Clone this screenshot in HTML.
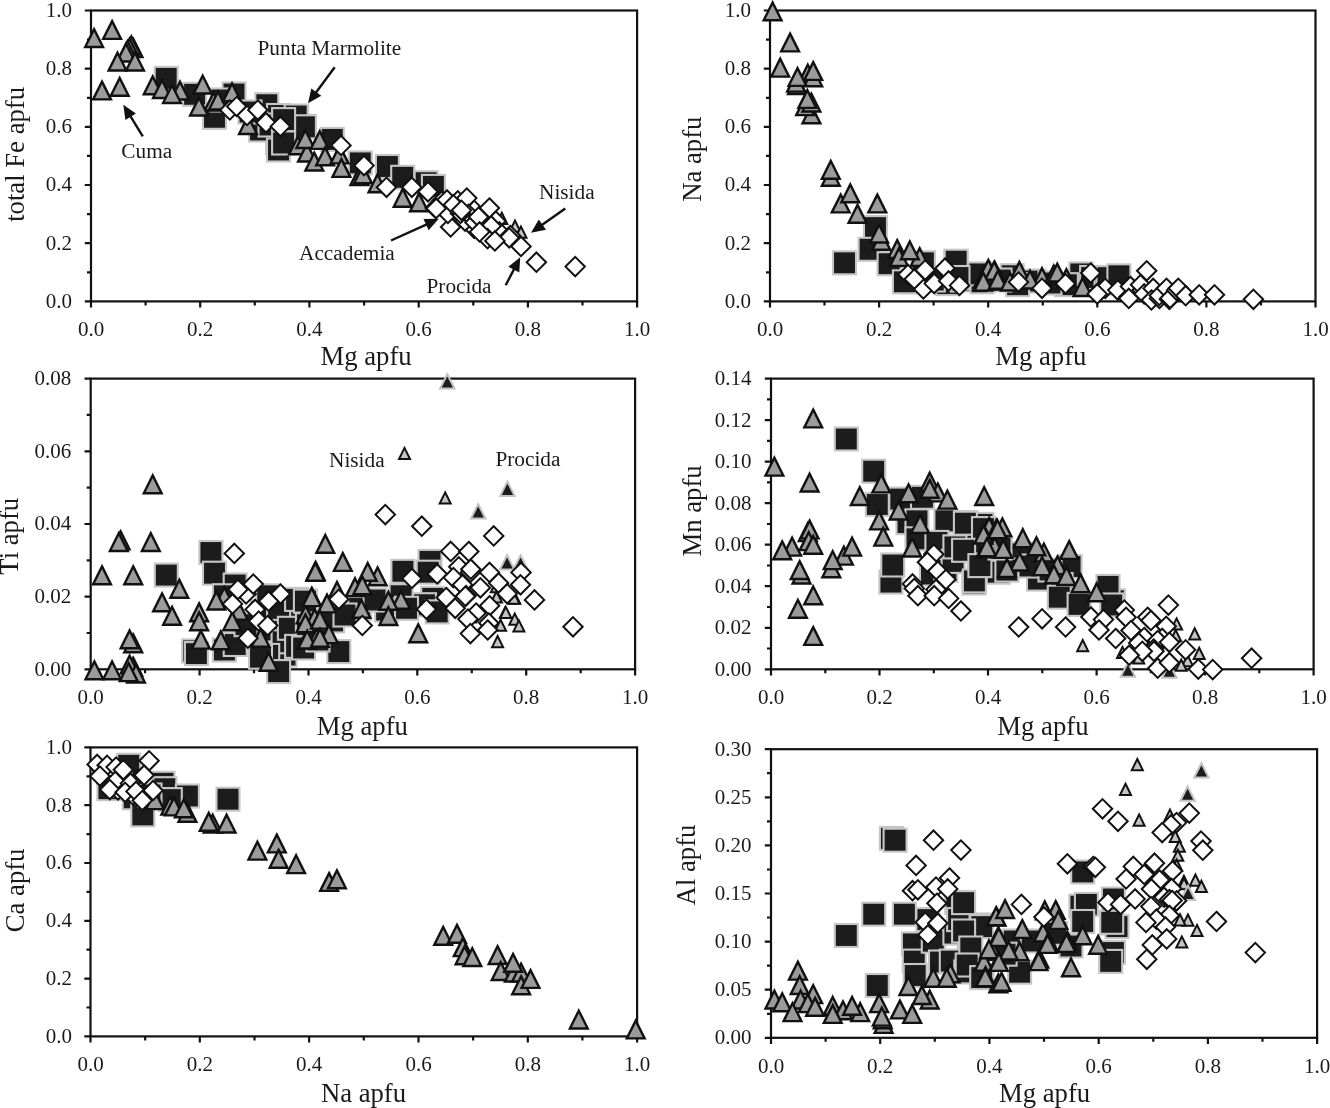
<!DOCTYPE html>
<html lang="en"><head><meta charset="utf-8"><title>Figure</title>
<style>html,body{margin:0;padding:0;background:#fff}svg{display:block}text{font-family:'Liberation Serif', 'DejaVu Serif', serif;fill:#1a1a1a}svg{filter:grayscale(1) blur(0.4px)}.tk{font-size:21px}.ax{font-size:26.7px}.an{font-size:21.3px}.fr{fill:none;stroke:#111;stroke-width:2.2}.t{fill:#9b9b9b;stroke:#111;stroke-width:2.4;stroke-linejoin:miter}.s{fill:#1c1c1c;stroke:#c6c6c6;stroke-width:2.1}.d{fill:#fff;stroke:#111;stroke-width:2;stroke-linejoin:miter}.u{fill:#c4c4c4;stroke:#111;stroke-width:2}.v{fill:#1c1c1c;stroke:#c2c2c2;stroke-width:2}.ar{stroke:#111;stroke-width:2.4;fill:none}.ah{fill:#111;stroke:none}</style></head><body>
<svg width="1330" height="1108" viewBox="0 0 1330 1108">
<rect width="1330" height="1108" fill="#fff"/>
<defs>
<path id="t" d="M0,-8.3 L8.9,9.5 L-8.9,9.5 Z"/>
<rect id="s" x="-11.5" y="-11.5" width="23" height="23"/>
<path id="d" d="M0,-9.7 L9.7,0 L0,9.7 L-9.7,0 Z"/>
<path id="u" d="M0,-5 L5.5,6.15 L-5.5,6.15 Z"/>
<path id="v" d="M0,-6.55 L7.2,7.7 L-7.2,7.7 Z"/>
</defs>
<g id="p1">
<rect class="fr" x="91" y="10.5" width="546.1" height="290.9"/>
<path class="fr" d="M91,301.4 v6.2 M145.6,301.4 v4 M200.2,301.4 v6.2 M254.8,301.4 v4 M309.4,301.4 v6.2 M364.1,301.4 v4 M418.7,301.4 v6.2 M473.3,301.4 v4 M527.9,301.4 v6.2 M582.5,301.4 v4 M637.1,301.4 v6.2 M91,301.4 h-6.2 M91,272.3 h-4 M91,243.2 h-6.2 M91,214.1 h-4 M91,185 h-6.2 M91,155.9 h-4 M91,126.9 h-6.2 M91,97.8 h-4 M91,68.7 h-6.2 M91,39.6 h-4 M91,10.5 h-6.2"/>
<text class="tk" text-anchor="middle" x="91" y="336.4">0.0</text>
<text class="tk" text-anchor="middle" x="200.2" y="336.4">0.2</text>
<text class="tk" text-anchor="middle" x="309.4" y="336.4">0.4</text>
<text class="tk" text-anchor="middle" x="418.7" y="336.4">0.6</text>
<text class="tk" text-anchor="middle" x="527.9" y="336.4">0.8</text>
<text class="tk" text-anchor="middle" x="637.1" y="336.4">1.0</text>
<text class="tk" text-anchor="end" x="72.1" y="307.8">0.0</text>
<text class="tk" text-anchor="end" x="72.1" y="249.6">0.2</text>
<text class="tk" text-anchor="end" x="72.1" y="191.4">0.4</text>
<text class="tk" text-anchor="end" x="72.1" y="133.3">0.6</text>
<text class="tk" text-anchor="end" x="72.1" y="75.1">0.8</text>
<text class="tk" text-anchor="end" x="72.1" y="16.9">1.0</text>
<text class="ax" text-anchor="middle" x="366.1" y="365.4">Mg apfu</text>
<text class="ax" text-anchor="middle" transform="translate(24.1,154.4) rotate(-90)">total Fe apfu</text>
<use href="#s" class="s" x="166.2" y="78.4"/>
<use href="#s" class="s" x="194.6" y="94.3"/>
<use href="#s" class="s" x="214.5" y="117.3"/>
<use href="#s" class="s" x="234" y="94"/>
<use href="#s" class="s" x="222" y="100"/>
<use href="#s" class="s" x="266.8" y="104.7"/>
<use href="#s" class="s" x="278.5" y="115.5"/>
<use href="#s" class="s" x="296.6" y="117.3"/>
<use href="#s" class="s" x="303.8" y="126.4"/>
<use href="#s" class="s" x="277.6" y="142.6"/>
<use href="#s" class="s" x="260.5" y="130"/>
<use href="#s" class="s" x="278.5" y="150"/>
<use href="#s" class="s" x="250" y="112"/>
<use href="#s" class="s" x="270" y="125"/>
<use href="#s" class="s" x="288" y="130"/>
<use href="#s" class="s" x="296.2" y="116"/>
<use href="#s" class="s" x="304.4" y="126.8"/>
<use href="#s" class="s" x="283.6" y="119.6"/>
<use href="#s" class="s" x="283.6" y="143"/>
<use href="#s" class="s" x="332.3" y="139.4"/>
<use href="#s" class="s" x="360.3" y="162.9"/>
<use href="#s" class="s" x="387.4" y="166.5"/>
<use href="#s" class="s" x="402.7" y="177.3"/>
<use href="#s" class="s" x="426.2" y="182.7"/>
<use href="#s" class="s" x="433.4" y="186.4"/>
<use href="#t" class="t" x="94.1" y="37.5"/>
<use href="#t" class="t" x="112.1" y="29.4"/>
<use href="#t" class="t" x="133.5" y="47.5"/>
<use href="#t" class="t" x="131.4" y="44.8"/>
<use href="#t" class="t" x="129.5" y="47"/>
<use href="#t" class="t" x="127.5" y="49.5"/>
<use href="#t" class="t" x="126" y="52"/>
<use href="#t" class="t" x="117.5" y="61"/>
<use href="#t" class="t" x="135" y="61"/>
<use href="#t" class="t" x="102" y="89.9"/>
<use href="#t" class="t" x="119.7" y="86.3"/>
<use href="#t" class="t" x="152.7" y="84.8"/>
<use href="#t" class="t" x="162" y="88.5"/>
<use href="#t" class="t" x="180" y="90"/>
<use href="#t" class="t" x="172" y="93.5"/>
<use href="#t" class="t" x="202.7" y="84"/>
<use href="#t" class="t" x="213.6" y="101"/>
<use href="#t" class="t" x="199" y="106"/>
<use href="#t" class="t" x="218" y="100"/>
<use href="#t" class="t" x="232" y="91.7"/>
<use href="#t" class="t" x="248" y="124.5"/>
<use href="#t" class="t" x="298" y="144.8"/>
<use href="#t" class="t" x="307" y="152"/>
<use href="#t" class="t" x="314.3" y="161"/>
<use href="#t" class="t" x="305.3" y="138.5"/>
<use href="#t" class="t" x="319.7" y="139.4"/>
<use href="#t" class="t" x="325.1" y="155.7"/>
<use href="#t" class="t" x="339.6" y="153.9"/>
<use href="#t" class="t" x="341.4" y="167.4"/>
<use href="#t" class="t" x="359.4" y="175.5"/>
<use href="#t" class="t" x="363" y="173.7"/>
<use href="#t" class="t" x="377.5" y="182.7"/>
<use href="#t" class="t" x="402.7" y="197.2"/>
<use href="#t" class="t" x="419" y="201.7"/>
<use href="#u" class="u" x="501.8" y="217.8"/>
<use href="#u" class="u" x="515" y="225.6"/>
<use href="#u" class="u" x="521" y="231.6"/>
<use href="#d" class="d" x="456.1" y="210.3"/>
<use href="#d" class="d" x="474.2" y="210.3"/>
<use href="#d" class="d" x="481.4" y="217.5"/>
<use href="#d" class="d" x="495.8" y="221.1"/>
<use href="#d" class="d" x="499.4" y="231.9"/>
<use href="#d" class="d" x="474.2" y="228.3"/>
<use href="#d" class="d" x="465.1" y="221.1"/>
<use href="#d" class="d" x="441.7" y="201.2"/>
<use href="#d" class="d" x="510.3" y="235.5"/>
<use href="#d" class="d" x="229.8" y="110"/>
<use href="#d" class="d" x="236.7" y="106.5"/>
<use href="#d" class="d" x="247" y="115.5"/>
<use href="#d" class="d" x="257.8" y="110"/>
<use href="#d" class="d" x="266" y="122.7"/>
<use href="#d" class="d" x="280.4" y="126.4"/>
<use href="#d" class="d" x="341" y="145.4"/>
<use href="#d" class="d" x="364" y="165.6"/>
<use href="#d" class="d" x="386.5" y="187.3"/>
<use href="#d" class="d" x="411.8" y="187.3"/>
<use href="#d" class="d" x="428" y="191.8"/>
<use href="#d" class="d" x="435.2" y="208"/>
<use href="#d" class="d" x="447" y="199.9"/>
<use href="#d" class="d" x="457.8" y="200.8"/>
<use href="#d" class="d" x="466.8" y="198.1"/>
<use href="#d" class="d" x="468.6" y="214.3"/>
<use href="#d" class="d" x="450.6" y="227"/>
<use href="#d" class="d" x="475" y="222.5"/>
<use href="#d" class="d" x="489.4" y="208"/>
<use href="#d" class="d" x="491.2" y="226"/>
<use href="#d" class="d" x="487.6" y="238.7"/>
<use href="#d" class="d" x="509.2" y="237.8"/>
<use href="#d" class="d" x="447.9" y="213.4"/>
<use href="#d" class="d" x="460.5" y="213.4"/>
<use href="#d" class="d" x="478.6" y="217"/>
<use href="#d" class="d" x="436.2" y="208.4"/>
<use href="#d" class="d" x="453.4" y="204.8"/>
<use href="#d" class="d" x="461.5" y="210.3"/>
<use href="#d" class="d" x="479.6" y="231.9"/>
<use href="#d" class="d" x="494.9" y="240.9"/>
<use href="#d" class="d" x="521" y="246.4"/>
<use href="#d" class="d" x="536.4" y="262.2"/>
<use href="#d" class="d" x="575.2" y="266.6"/>
</g>
<g id="p2">
<rect class="fr" x="770" y="10.5" width="545.5" height="290.9"/>
<path class="fr" d="M770,301.4 v6.2 M824.5,301.4 v4 M879.1,301.4 v6.2 M933.6,301.4 v4 M988.2,301.4 v6.2 M1042.8,301.4 v4 M1097.3,301.4 v6.2 M1151.8,301.4 v4 M1206.4,301.4 v6.2 M1261,301.4 v4 M1315.5,301.4 v6.2 M770,301.4 h-6.2 M770,272.3 h-4 M770,243.2 h-6.2 M770,214.1 h-4 M770,185 h-6.2 M770,155.9 h-4 M770,126.9 h-6.2 M770,97.8 h-4 M770,68.7 h-6.2 M770,39.6 h-4 M770,10.5 h-6.2"/>
<text class="tk" text-anchor="middle" x="770" y="336.4">0.0</text>
<text class="tk" text-anchor="middle" x="879.1" y="336.4">0.2</text>
<text class="tk" text-anchor="middle" x="988.2" y="336.4">0.4</text>
<text class="tk" text-anchor="middle" x="1097.3" y="336.4">0.6</text>
<text class="tk" text-anchor="middle" x="1206.4" y="336.4">0.8</text>
<text class="tk" text-anchor="middle" x="1315.5" y="336.4">1.0</text>
<text class="tk" text-anchor="end" x="751" y="307.8">0.0</text>
<text class="tk" text-anchor="end" x="751" y="249.6">0.2</text>
<text class="tk" text-anchor="end" x="751" y="191.4">0.4</text>
<text class="tk" text-anchor="end" x="751" y="133.3">0.6</text>
<text class="tk" text-anchor="end" x="751" y="75.1">0.8</text>
<text class="tk" text-anchor="end" x="751" y="16.9">1.0</text>
<text class="ax" text-anchor="middle" x="1040.8" y="364.9">Mg apfu</text>
<text class="ax" text-anchor="middle" transform="translate(700.6,159.2) rotate(-90)">Na apfu</text>
<use href="#s" class="s" x="844.5" y="262.8"/>
<use href="#s" class="s" x="875.5" y="227.6"/>
<use href="#s" class="s" x="870.1" y="249.3"/>
<use href="#s" class="s" x="889.1" y="263.7"/>
<use href="#s" class="s" x="923.4" y="262.8"/>
<use href="#s" class="s" x="912.5" y="281.8"/>
<use href="#s" class="s" x="904.4" y="281.8"/>
<use href="#s" class="s" x="955.8" y="261.9"/>
<use href="#s" class="s" x="954" y="272.7"/>
<use href="#s" class="s" x="947.7" y="283.6"/>
<use href="#s" class="s" x="962.2" y="280"/>
<use href="#s" class="s" x="980.2" y="274.5"/>
<use href="#s" class="s" x="982" y="281.8"/>
<use href="#s" class="s" x="933.3" y="280"/>
<use href="#s" class="s" x="956.2" y="261.2"/>
<use href="#s" class="s" x="979.7" y="273.9"/>
<use href="#s" class="s" x="1012.2" y="275.7"/>
<use href="#s" class="s" x="958" y="277.5"/>
<use href="#s" class="s" x="1033.9" y="281.1"/>
<use href="#s" class="s" x="1080.8" y="273.9"/>
<use href="#s" class="s" x="1091.6" y="277.5"/>
<use href="#s" class="s" x="1106.1" y="282.9"/>
<use href="#s" class="s" x="1116.9" y="282.9"/>
<use href="#s" class="s" x="1017.6" y="284.7"/>
<use href="#s" class="s" x="1066.4" y="284.7"/>
<use href="#s" class="s" x="1000" y="280"/>
<use href="#s" class="s" x="1050" y="283"/>
<use href="#s" class="s" x="1108" y="277.6"/>
<use href="#s" class="s" x="1118.9" y="275.8"/>
<use href="#t" class="t" x="772.6" y="10.8"/>
<use href="#t" class="t" x="790.1" y="41.9"/>
<use href="#t" class="t" x="780.2" y="67.1"/>
<use href="#t" class="t" x="807.8" y="73.1"/>
<use href="#t" class="t" x="813.2" y="76.7"/>
<use href="#t" class="t" x="813.2" y="70.4"/>
<use href="#t" class="t" x="797" y="84.5"/>
<use href="#t" class="t" x="796.1" y="82.1"/>
<use href="#t" class="t" x="797.5" y="76.4"/>
<use href="#t" class="t" x="811.4" y="113.7"/>
<use href="#t" class="t" x="805.1" y="105.6"/>
<use href="#t" class="t" x="811.4" y="102"/>
<use href="#t" class="t" x="807.3" y="98.4"/>
<use href="#t" class="t" x="830.8" y="176.2"/>
<use href="#t" class="t" x="830.8" y="169.3"/>
<use href="#t" class="t" x="840.7" y="202.9"/>
<use href="#t" class="t" x="850.3" y="192.8"/>
<use href="#t" class="t" x="877.3" y="202.9"/>
<use href="#t" class="t" x="857.5" y="213.2"/>
<use href="#t" class="t" x="881.3" y="240.3"/>
<use href="#t" class="t" x="879.1" y="233"/>
<use href="#t" class="t" x="897.2" y="248.4"/>
<use href="#t" class="t" x="899" y="256.5"/>
<use href="#t" class="t" x="919.7" y="256.5"/>
<use href="#t" class="t" x="909.8" y="249.8"/>
<use href="#t" class="t" x="983.8" y="276.4"/>
<use href="#t" class="t" x="988.3" y="268.2"/>
<use href="#t" class="t" x="994.7" y="270"/>
<use href="#t" class="t" x="998.3" y="280"/>
<use href="#t" class="t" x="994.2" y="270.3"/>
<use href="#t" class="t" x="983.3" y="281.1"/>
<use href="#t" class="t" x="997.8" y="279.3"/>
<use href="#t" class="t" x="1019.4" y="270.3"/>
<use href="#t" class="t" x="1042" y="276.6"/>
<use href="#t" class="t" x="1053.7" y="273.9"/>
<use href="#t" class="t" x="1057.3" y="272"/>
<use href="#t" class="t" x="1066.4" y="277.5"/>
<use href="#t" class="t" x="1082.6" y="286.5"/>
<use href="#t" class="t" x="1010" y="281"/>
<use href="#t" class="t" x="1030" y="279"/>
<use href="#d" class="d" x="908" y="274.5"/>
<use href="#d" class="d" x="923.4" y="289"/>
<use href="#d" class="d" x="914.3" y="279.1"/>
<use href="#d" class="d" x="925.2" y="270"/>
<use href="#d" class="d" x="934.2" y="283.6"/>
<use href="#d" class="d" x="945" y="268.2"/>
<use href="#d" class="d" x="948.6" y="280.9"/>
<use href="#d" class="d" x="959.5" y="285.4"/>
<use href="#d" class="d" x="1018.5" y="282"/>
<use href="#d" class="d" x="1042" y="288.3"/>
<use href="#d" class="d" x="1065.5" y="283.8"/>
<use href="#d" class="d" x="1090.7" y="273"/>
<use href="#d" class="d" x="1098.8" y="292"/>
<use href="#d" class="d" x="1105.2" y="288.3"/>
<use href="#d" class="d" x="1117.8" y="290.1"/>
<use href="#d" class="d" x="1128.6" y="297.3"/>
<use href="#d" class="d" x="1130.4" y="286.5"/>
<use href="#d" class="d" x="1146.7" y="270.8"/>
<use href="#d" class="d" x="1142.2" y="290.1"/>
<use href="#d" class="d" x="1097.2" y="293.9"/>
<use href="#d" class="d" x="1128.8" y="298.4"/>
<use href="#d" class="d" x="1140.5" y="284.8"/>
<use href="#d" class="d" x="1144.2" y="293.9"/>
<use href="#d" class="d" x="1153.2" y="288.4"/>
<use href="#d" class="d" x="1151.4" y="300"/>
<use href="#d" class="d" x="1159.5" y="298.4"/>
<use href="#d" class="d" x="1159.3" y="295.5"/>
<use href="#d" class="d" x="1166.5" y="288.3"/>
<use href="#d" class="d" x="1169.4" y="299.3"/>
<use href="#d" class="d" x="1170.1" y="298.2"/>
<use href="#d" class="d" x="1176.6" y="290.3"/>
<use href="#d" class="d" x="1178.3" y="288.3"/>
<use href="#d" class="d" x="1185.7" y="295.7"/>
<use href="#d" class="d" x="1199.2" y="294.8"/>
<use href="#d" class="d" x="1214.5" y="294.8"/>
<use href="#d" class="d" x="1253.4" y="299.3"/>
</g>
<g id="p3">
<rect class="fr" x="90.7" y="378.6" width="544.4" height="290.7"/>
<path class="fr" d="M90.7,669.3 v6.2 M145.1,669.3 v4 M199.6,669.3 v6.2 M254,669.3 v4 M308.5,669.3 v6.2 M362.9,669.3 v4 M417.3,669.3 v6.2 M471.8,669.3 v4 M526.2,669.3 v6.2 M580.7,669.3 v4 M635.1,669.3 v6.2 M90.7,669.3 h-6.2 M90.7,633 h-4 M90.7,596.6 h-6.2 M90.7,560.3 h-4 M90.7,524 h-6.2 M90.7,487.6 h-4 M90.7,451.3 h-6.2 M90.7,414.9 h-4 M90.7,378.6 h-6.2"/>
<text class="tk" text-anchor="middle" x="90.7" y="704.3">0.0</text>
<text class="tk" text-anchor="middle" x="199.6" y="704.3">0.2</text>
<text class="tk" text-anchor="middle" x="308.5" y="704.3">0.4</text>
<text class="tk" text-anchor="middle" x="417.3" y="704.3">0.6</text>
<text class="tk" text-anchor="middle" x="526.2" y="704.3">0.8</text>
<text class="tk" text-anchor="middle" x="635.1" y="704.3">1.0</text>
<text class="tk" text-anchor="end" x="71.2" y="675.7">0.00</text>
<text class="tk" text-anchor="end" x="71.2" y="603">0.02</text>
<text class="tk" text-anchor="end" x="71.2" y="530.4">0.04</text>
<text class="tk" text-anchor="end" x="71.2" y="457.7">0.06</text>
<text class="tk" text-anchor="end" x="71.2" y="385">0.08</text>
<text class="ax" text-anchor="middle" x="362.3" y="735.3">Mg apfu</text>
<text class="ax" text-anchor="middle" transform="translate(18.3,536.3) rotate(-90)">Ti apfu</text>
<use href="#s" class="s" x="272" y="630"/>
<use href="#s" class="s" x="285" y="655"/>
<use href="#s" class="s" x="300" y="612"/>
<use href="#s" class="s" x="262" y="612"/>
<use href="#s" class="s" x="166.3" y="575.1"/>
<use href="#s" class="s" x="210.9" y="552.5"/>
<use href="#s" class="s" x="214.5" y="573.2"/>
<use href="#s" class="s" x="235.2" y="585"/>
<use href="#s" class="s" x="224.4" y="595.8"/>
<use href="#s" class="s" x="193.7" y="650.9"/>
<use href="#s" class="s" x="196.4" y="653.6"/>
<use href="#s" class="s" x="224.4" y="650"/>
<use href="#s" class="s" x="235.2" y="644.5"/>
<use href="#s" class="s" x="267.7" y="595.8"/>
<use href="#s" class="s" x="278.6" y="608.4"/>
<use href="#s" class="s" x="296.6" y="599.4"/>
<use href="#s" class="s" x="283.1" y="641.8"/>
<use href="#s" class="s" x="267.7" y="655.4"/>
<use href="#s" class="s" x="278.6" y="671.6"/>
<use href="#s" class="s" x="289.4" y="628.3"/>
<use href="#s" class="s" x="296.6" y="646.4"/>
<use href="#s" class="s" x="260.5" y="657.2"/>
<use href="#s" class="s" x="246" y="624.7"/>
<use href="#s" class="s" x="307.4" y="624.7"/>
<use href="#s" class="s" x="402.9" y="571.3"/>
<use href="#s" class="s" x="430" y="561.4"/>
<use href="#s" class="s" x="428.2" y="572.2"/>
<use href="#s" class="s" x="432.7" y="598.4"/>
<use href="#s" class="s" x="424.5" y="604.7"/>
<use href="#s" class="s" x="437.2" y="611.9"/>
<use href="#s" class="s" x="401.1" y="595.7"/>
<use href="#s" class="s" x="386.6" y="610.1"/>
<use href="#s" class="s" x="359.6" y="608.3"/>
<use href="#s" class="s" x="332.5" y="620.9"/>
<use href="#s" class="s" x="338.8" y="651.6"/>
<use href="#s" class="s" x="305.4" y="601.1"/>
<use href="#s" class="s" x="303.6" y="648"/>
<use href="#s" class="s" x="406.5" y="608.3"/>
<use href="#s" class="s" x="318" y="640"/>
<use href="#s" class="s" x="345" y="615"/>
<use href="#s" class="s" x="375" y="600"/>
<use href="#t" class="t" x="152.7" y="483.7"/>
<use href="#t" class="t" x="120.6" y="539.7"/>
<use href="#t" class="t" x="118.8" y="541.5"/>
<use href="#t" class="t" x="150.8" y="541.5"/>
<use href="#t" class="t" x="102" y="574.7"/>
<use href="#t" class="t" x="133.2" y="574.7"/>
<use href="#t" class="t" x="179.3" y="588.2"/>
<use href="#t" class="t" x="162.1" y="601.8"/>
<use href="#t" class="t" x="172.1" y="615.3"/>
<use href="#t" class="t" x="199.1" y="611.7"/>
<use href="#t" class="t" x="199.1" y="620.7"/>
<use href="#t" class="t" x="200.9" y="639.1"/>
<use href="#t" class="t" x="133.2" y="642.7"/>
<use href="#t" class="t" x="129.6" y="638.8"/>
<use href="#t" class="t" x="133.2" y="666.2"/>
<use href="#t" class="t" x="129.6" y="664"/>
<use href="#t" class="t" x="136" y="673"/>
<use href="#t" class="t" x="128.7" y="671.6"/>
<use href="#t" class="t" x="94.4" y="669.8"/>
<use href="#t" class="t" x="112.1" y="669.8"/>
<use href="#t" class="t" x="224.4" y="595.8"/>
<use href="#t" class="t" x="216.3" y="600"/>
<use href="#t" class="t" x="238.8" y="610.3"/>
<use href="#t" class="t" x="232.2" y="620.7"/>
<use href="#t" class="t" x="220.8" y="639.7"/>
<use href="#t" class="t" x="260.5" y="637.3"/>
<use href="#t" class="t" x="268.6" y="661.3"/>
<use href="#t" class="t" x="315.6" y="570.2"/>
<use href="#t" class="t" x="311.9" y="596.4"/>
<use href="#t" class="t" x="305.6" y="613.9"/>
<use href="#t" class="t" x="314.7" y="617.5"/>
<use href="#t" class="t" x="306.5" y="639.1"/>
<use href="#t" class="t" x="316.5" y="637.3"/>
<use href="#t" class="t" x="325.3" y="543.3"/>
<use href="#t" class="t" x="342.8" y="561.4"/>
<use href="#t" class="t" x="315.3" y="571.3"/>
<use href="#t" class="t" x="377.6" y="575.8"/>
<use href="#t" class="t" x="367.7" y="571.3"/>
<use href="#t" class="t" x="355" y="586.6"/>
<use href="#t" class="t" x="362.3" y="584.8"/>
<use href="#t" class="t" x="337" y="590.3"/>
<use href="#t" class="t" x="311.7" y="596.6"/>
<use href="#t" class="t" x="327" y="602.9"/>
<use href="#t" class="t" x="401" y="599.3"/>
<use href="#t" class="t" x="388.4" y="600.2"/>
<use href="#t" class="t" x="361.4" y="608.3"/>
<use href="#t" class="t" x="388.4" y="615.5"/>
<use href="#t" class="t" x="418.2" y="632.7"/>
<use href="#t" class="t" x="305.4" y="622.7"/>
<use href="#t" class="t" x="319.9" y="619.1"/>
<use href="#t" class="t" x="307.2" y="639"/>
<use href="#t" class="t" x="328.9" y="633.6"/>
<use href="#t" class="t" x="319.9" y="637.2"/>
<use href="#u" class="u" x="404.5" y="452.9"/>
<use href="#u" class="u" x="445.2" y="497.4"/>
<use href="#u" class="u" x="496.3" y="586.2"/>
<use href="#u" class="u" x="496.5" y="596.3"/>
<use href="#u" class="u" x="514.8" y="597.7"/>
<use href="#u" class="u" x="505.3" y="611.9"/>
<use href="#u" class="u" x="514.8" y="618.6"/>
<use href="#u" class="u" x="518.9" y="625.4"/>
<use href="#u" class="u" x="500.6" y="624.7"/>
<use href="#u" class="u" x="497.6" y="641"/>
<use href="#u" class="u" x="513.9" y="597.5"/>
<use href="#u" class="u" x="505.8" y="611.9"/>
<use href="#v" class="v" x="447.3" y="380.8"/>
<use href="#v" class="v" x="507.4" y="488.2"/>
<use href="#v" class="v" x="478.2" y="510.8"/>
<use href="#v" class="v" x="507.1" y="561.8"/>
<use href="#v" class="v" x="520.6" y="561.8"/>
<use href="#d" class="d" x="234.3" y="553.4"/>
<use href="#d" class="d" x="246.1" y="594"/>
<use href="#d" class="d" x="253.3" y="584.1"/>
<use href="#d" class="d" x="237.9" y="589.5"/>
<use href="#d" class="d" x="232.5" y="603.9"/>
<use href="#d" class="d" x="280.4" y="594"/>
<use href="#d" class="d" x="268.6" y="601.2"/>
<use href="#d" class="d" x="255.1" y="609.4"/>
<use href="#d" class="d" x="258.7" y="621.1"/>
<use href="#d" class="d" x="267.7" y="625.6"/>
<use href="#d" class="d" x="247.9" y="638.2"/>
<use href="#d" class="d" x="385.3" y="514.6"/>
<use href="#d" class="d" x="421.8" y="526.2"/>
<use href="#d" class="d" x="493.7" y="535.9"/>
<use href="#d" class="d" x="450.7" y="551.4"/>
<use href="#d" class="d" x="468.8" y="551.5"/>
<use href="#d" class="d" x="437.2" y="574"/>
<use href="#d" class="d" x="411.9" y="578.5"/>
<use href="#d" class="d" x="458.8" y="566.8"/>
<use href="#d" class="d" x="453.4" y="577.6"/>
<use href="#d" class="d" x="470.6" y="572.2"/>
<use href="#d" class="d" x="470.8" y="569.2"/>
<use href="#d" class="d" x="489.5" y="572.4"/>
<use href="#d" class="d" x="521" y="572.4"/>
<use href="#d" class="d" x="520.5" y="584.8"/>
<use href="#d" class="d" x="534.5" y="599.9"/>
<use href="#d" class="d" x="462.5" y="584.8"/>
<use href="#d" class="d" x="498.6" y="583"/>
<use href="#d" class="d" x="480.4" y="587.8"/>
<use href="#d" class="d" x="466.1" y="595.7"/>
<use href="#d" class="d" x="465.4" y="596.3"/>
<use href="#d" class="d" x="446.2" y="597.5"/>
<use href="#d" class="d" x="507.2" y="593.8"/>
<use href="#d" class="d" x="489.6" y="605.8"/>
<use href="#d" class="d" x="455.2" y="608.3"/>
<use href="#d" class="d" x="476.1" y="613"/>
<use href="#d" class="d" x="467.9" y="619.1"/>
<use href="#d" class="d" x="488.8" y="623"/>
<use href="#d" class="d" x="487.7" y="630"/>
<use href="#d" class="d" x="470.4" y="633.6"/>
<use href="#d" class="d" x="426.4" y="609.2"/>
<use href="#d" class="d" x="362.3" y="625.5"/>
<use href="#d" class="d" x="338.8" y="599.3"/>
<use href="#d" class="d" x="573" y="626.8"/>
</g>
<g id="p4">
<rect class="fr" x="771" y="378.6" width="542.6" height="290.7"/>
<path class="fr" d="M771,669.3 v6.2 M825.3,669.3 v4 M879.5,669.3 v6.2 M933.8,669.3 v4 M988,669.3 v6.2 M1042.3,669.3 v4 M1096.6,669.3 v6.2 M1150.8,669.3 v4 M1205.1,669.3 v6.2 M1259.3,669.3 v4 M1313.6,669.3 v6.2 M771,669.3 h-6.2 M771,648.5 h-4 M771,627.8 h-6.2 M771,607 h-4 M771,586.2 h-6.2 M771,565.5 h-4 M771,544.7 h-6.2 M771,524 h-4 M771,503.2 h-6.2 M771,482.4 h-4 M771,461.7 h-6.2 M771,440.9 h-4 M771,420.1 h-6.2 M771,399.4 h-4 M771,378.6 h-6.2"/>
<text class="tk" text-anchor="middle" x="771" y="704.3">0.0</text>
<text class="tk" text-anchor="middle" x="879.5" y="704.3">0.2</text>
<text class="tk" text-anchor="middle" x="988" y="704.3">0.4</text>
<text class="tk" text-anchor="middle" x="1096.6" y="704.3">0.6</text>
<text class="tk" text-anchor="middle" x="1205.1" y="704.3">0.8</text>
<text class="tk" text-anchor="middle" x="1313.6" y="704.3">1.0</text>
<text class="tk" text-anchor="end" x="751.5" y="675.7">0.00</text>
<text class="tk" text-anchor="end" x="751.5" y="634.2">0.02</text>
<text class="tk" text-anchor="end" x="751.5" y="592.6">0.04</text>
<text class="tk" text-anchor="end" x="751.5" y="551.1">0.06</text>
<text class="tk" text-anchor="end" x="751.5" y="509.6">0.08</text>
<text class="tk" text-anchor="end" x="751.5" y="468.1">0.10</text>
<text class="tk" text-anchor="end" x="751.5" y="426.5">0.12</text>
<text class="tk" text-anchor="end" x="751.5" y="385">0.14</text>
<text class="ax" text-anchor="middle" x="1042.9" y="735.3">Mg apfu</text>
<text class="ax" text-anchor="middle" transform="translate(700.6,510.9) rotate(-90)">Mn apfu</text>
<use href="#s" class="s" x="846.3" y="439"/>
<use href="#s" class="s" x="873.7" y="471.2"/>
<use href="#s" class="s" x="877.3" y="504.5"/>
<use href="#s" class="s" x="900.8" y="499.1"/>
<use href="#s" class="s" x="922.5" y="497.3"/>
<use href="#s" class="s" x="908" y="522.6"/>
<use href="#s" class="s" x="917" y="520.8"/>
<use href="#s" class="s" x="945.9" y="520.8"/>
<use href="#s" class="s" x="965.8" y="522.6"/>
<use href="#s" class="s" x="982" y="524.4"/>
<use href="#s" class="s" x="917" y="538.8"/>
<use href="#s" class="s" x="936.9" y="542.4"/>
<use href="#s" class="s" x="971.2" y="546"/>
<use href="#s" class="s" x="890.9" y="582.1"/>
<use href="#s" class="s" x="892.7" y="565"/>
<use href="#s" class="s" x="931.5" y="574"/>
<use href="#s" class="s" x="945.9" y="570.4"/>
<use href="#s" class="s" x="953.1" y="561.4"/>
<use href="#s" class="s" x="954.9" y="546.9"/>
<use href="#s" class="s" x="973.9" y="583"/>
<use href="#s" class="s" x="979.3" y="565"/>
<use href="#s" class="s" x="998.3" y="572.2"/>
<use href="#s" class="s" x="965.4" y="523.2"/>
<use href="#s" class="s" x="983.5" y="528.6"/>
<use href="#s" class="s" x="963.6" y="550.3"/>
<use href="#s" class="s" x="974.4" y="580.9"/>
<use href="#s" class="s" x="979.9" y="565.6"/>
<use href="#s" class="s" x="1021.4" y="553.9"/>
<use href="#s" class="s" x="1006.9" y="570.1"/>
<use href="#s" class="s" x="1038.5" y="579.1"/>
<use href="#s" class="s" x="1070.1" y="566.5"/>
<use href="#s" class="s" x="1061.1" y="584.5"/>
<use href="#s" class="s" x="1059.3" y="597.2"/>
<use href="#s" class="s" x="1079.1" y="604.4"/>
<use href="#s" class="s" x="1113.4" y="600.8"/>
<use href="#s" class="s" x="1108" y="586.4"/>
<use href="#s" class="s" x="1111.7" y="605"/>
<use href="#s" class="s" x="1000" y="548"/>
<use href="#s" class="s" x="1030" y="566"/>
<use href="#s" class="s" x="1050" y="570"/>
<use href="#t" class="t" x="813.2" y="417.9"/>
<use href="#t" class="t" x="774.4" y="466.1"/>
<use href="#t" class="t" x="809.6" y="482"/>
<use href="#t" class="t" x="859.8" y="495.5"/>
<use href="#t" class="t" x="881.3" y="482.9"/>
<use href="#t" class="t" x="908.6" y="492.8"/>
<use href="#t" class="t" x="929.7" y="481.1"/>
<use href="#t" class="t" x="937.8" y="491.9"/>
<use href="#t" class="t" x="929.7" y="488.3"/>
<use href="#t" class="t" x="947.4" y="499.1"/>
<use href="#t" class="t" x="984.2" y="495.5"/>
<use href="#t" class="t" x="898.6" y="510"/>
<use href="#t" class="t" x="879.1" y="519.9"/>
<use href="#t" class="t" x="883.3" y="536.1"/>
<use href="#t" class="t" x="920.1" y="523.5"/>
<use href="#t" class="t" x="912.2" y="547"/>
<use href="#t" class="t" x="807.8" y="531.6"/>
<use href="#t" class="t" x="809.6" y="528.9"/>
<use href="#t" class="t" x="808.7" y="540.6"/>
<use href="#t" class="t" x="813.2" y="544.3"/>
<use href="#t" class="t" x="792.1" y="546.1"/>
<use href="#t" class="t" x="782.2" y="549.7"/>
<use href="#t" class="t" x="843.9" y="555.1"/>
<use href="#t" class="t" x="852.1" y="546.1"/>
<use href="#t" class="t" x="831.3" y="567.7"/>
<use href="#t" class="t" x="832.7" y="559.6"/>
<use href="#t" class="t" x="801.5" y="574"/>
<use href="#t" class="t" x="799.7" y="569.5"/>
<use href="#t" class="t" x="813.2" y="594.8"/>
<use href="#t" class="t" x="797.9" y="608.3"/>
<use href="#t" class="t" x="813.2" y="635.4"/>
<use href="#t" class="t" x="989.2" y="526.2"/>
<use href="#t" class="t" x="996.5" y="528"/>
<use href="#t" class="t" x="983.8" y="533.4"/>
<use href="#t" class="t" x="985.6" y="547.9"/>
<use href="#t" class="t" x="994.7" y="546"/>
<use href="#t" class="t" x="1002.4" y="526.8"/>
<use href="#t" class="t" x="983.5" y="534"/>
<use href="#t" class="t" x="997.5" y="528.6"/>
<use href="#t" class="t" x="987" y="546.6"/>
<use href="#t" class="t" x="1003.3" y="548.4"/>
<use href="#t" class="t" x="1022.8" y="537.6"/>
<use href="#t" class="t" x="1043.9" y="552"/>
<use href="#t" class="t" x="1036.4" y="545.7"/>
<use href="#t" class="t" x="1019.6" y="561"/>
<use href="#t" class="t" x="1006.9" y="567.4"/>
<use href="#t" class="t" x="1057.5" y="564.7"/>
<use href="#t" class="t" x="1042.1" y="565.6"/>
<use href="#t" class="t" x="1069.2" y="549.4"/>
<use href="#t" class="t" x="1053.9" y="573.7"/>
<use href="#t" class="t" x="1066.5" y="575.5"/>
<use href="#t" class="t" x="1080.6" y="582.7"/>
<use href="#t" class="t" x="1096.6" y="591.8"/>
<use href="#u" class="u" x="1082.7" y="645"/>
<use href="#u" class="u" x="1176.6" y="623.4"/>
<use href="#u" class="u" x="1194.7" y="633.3"/>
<use href="#u" class="u" x="1175.7" y="635.1"/>
<use href="#u" class="u" x="1199.2" y="652.8"/>
<use href="#u" class="u" x="1187.5" y="660"/>
<use href="#u" class="u" x="1181.2" y="664.5"/>
<use href="#u" class="u" x="1138.7" y="657.3"/>
<use href="#u" class="u" x="1122.5" y="651.9"/>
<use href="#v" class="v" x="1127.9" y="669.1"/>
<use href="#v" class="v" x="1169.4" y="670"/>
<use href="#d" class="d" x="933.8" y="554.2"/>
<use href="#d" class="d" x="927.4" y="562.3"/>
<use href="#d" class="d" x="937.8" y="571.3"/>
<use href="#d" class="d" x="945.9" y="579.4"/>
<use href="#d" class="d" x="912.5" y="583.9"/>
<use href="#d" class="d" x="914.3" y="588.4"/>
<use href="#d" class="d" x="917.9" y="595.7"/>
<use href="#d" class="d" x="936" y="589.4"/>
<use href="#d" class="d" x="934.2" y="595.7"/>
<use href="#d" class="d" x="948.6" y="598.4"/>
<use href="#d" class="d" x="960.9" y="611"/>
<use href="#d" class="d" x="1018.7" y="627"/>
<use href="#d" class="d" x="1042.1" y="618.8"/>
<use href="#d" class="d" x="1065.6" y="627"/>
<use href="#d" class="d" x="1090.9" y="617"/>
<use href="#d" class="d" x="1103.5" y="619.6"/>
<use href="#d" class="d" x="1099" y="630"/>
<use href="#d" class="d" x="1124.3" y="610.1"/>
<use href="#d" class="d" x="1126.1" y="617.3"/>
<use href="#d" class="d" x="1115.7" y="638.5"/>
<use href="#d" class="d" x="1131" y="630.5"/>
<use href="#d" class="d" x="1168.4" y="605.1"/>
<use href="#d" class="d" x="1147.7" y="617.3"/>
<use href="#d" class="d" x="1150.9" y="620.5"/>
<use href="#d" class="d" x="1140.5" y="640.5"/>
<use href="#d" class="d" x="1144.2" y="637.5"/>
<use href="#d" class="d" x="1166.2" y="626.3"/>
<use href="#d" class="d" x="1162.2" y="638.4"/>
<use href="#d" class="d" x="1157.7" y="640.5"/>
<use href="#d" class="d" x="1138.7" y="642.9"/>
<use href="#d" class="d" x="1169.4" y="642.3"/>
<use href="#d" class="d" x="1153.6" y="649"/>
<use href="#d" class="d" x="1154" y="651.3"/>
<use href="#d" class="d" x="1142.3" y="651.3"/>
<use href="#d" class="d" x="1129.2" y="655.2"/>
<use href="#d" class="d" x="1185.6" y="649.8"/>
<use href="#d" class="d" x="1157.7" y="668.2"/>
<use href="#d" class="d" x="1169.4" y="662.7"/>
<use href="#d" class="d" x="1198.3" y="669.1"/>
<use href="#d" class="d" x="1212.7" y="669.6"/>
<use href="#d" class="d" x="1251.6" y="658.2"/>
</g>
<g id="p5">
<rect class="fr" x="90.5" y="747.4" width="546.6" height="289"/>
<path class="fr" d="M90.5,1036.4 v6.2 M145.2,1036.4 v4 M199.8,1036.4 v6.2 M254.5,1036.4 v4 M309.1,1036.4 v6.2 M363.8,1036.4 v4 M418.5,1036.4 v6.2 M473.1,1036.4 v4 M527.8,1036.4 v6.2 M582.4,1036.4 v4 M637.1,1036.4 v6.2 M90.5,1036.4 h-6.2 M90.5,1007.5 h-4 M90.5,978.6 h-6.2 M90.5,949.7 h-4 M90.5,920.8 h-6.2 M90.5,891.9 h-4 M90.5,863 h-6.2 M90.5,834.1 h-4 M90.5,805.2 h-6.2 M90.5,776.3 h-4 M90.5,747.4 h-6.2"/>
<text class="tk" text-anchor="middle" x="90.5" y="1071.4">0.0</text>
<text class="tk" text-anchor="middle" x="199.8" y="1071.4">0.2</text>
<text class="tk" text-anchor="middle" x="309.1" y="1071.4">0.4</text>
<text class="tk" text-anchor="middle" x="418.5" y="1071.4">0.6</text>
<text class="tk" text-anchor="middle" x="527.8" y="1071.4">0.8</text>
<text class="tk" text-anchor="middle" x="637.1" y="1071.4">1.0</text>
<text class="tk" text-anchor="end" x="72" y="1042.8">0.0</text>
<text class="tk" text-anchor="end" x="72" y="985">0.2</text>
<text class="tk" text-anchor="end" x="72" y="927.2">0.4</text>
<text class="tk" text-anchor="end" x="72" y="869.4">0.6</text>
<text class="tk" text-anchor="end" x="72" y="811.6">0.8</text>
<text class="tk" text-anchor="end" x="72" y="753.8">1.0</text>
<text class="ax" text-anchor="middle" x="363.5" y="1101.7">Na apfu</text>
<text class="ax" text-anchor="middle" transform="translate(23.7,890.4) rotate(-90)">Ca apfu</text>
<use href="#s" class="s" x="128.7" y="765.3"/>
<use href="#s" class="s" x="108.9" y="788.7"/>
<use href="#s" class="s" x="134.2" y="797.8"/>
<use href="#s" class="s" x="163" y="783.3"/>
<use href="#s" class="s" x="164.8" y="788.7"/>
<use href="#s" class="s" x="187.4" y="796"/>
<use href="#s" class="s" x="170.3" y="799.6"/>
<use href="#s" class="s" x="228" y="799.2"/>
<use href="#s" class="s" x="142.8" y="814.9"/>
<use href="#s" class="s" x="120" y="785"/>
<use href="#s" class="s" x="150" y="795"/>
<use href="#t" class="t" x="154.9" y="799.6"/>
<use href="#t" class="t" x="170.3" y="805"/>
<use href="#t" class="t" x="173.9" y="805.9"/>
<use href="#t" class="t" x="187.4" y="812.2"/>
<use href="#t" class="t" x="183.8" y="807.7"/>
<use href="#t" class="t" x="212.7" y="823"/>
<use href="#t" class="t" x="208.7" y="821.2"/>
<use href="#t" class="t" x="226.6" y="823"/>
<use href="#t" class="t" x="257.4" y="850.1"/>
<use href="#t" class="t" x="276.8" y="842.9"/>
<use href="#t" class="t" x="278.6" y="858.2"/>
<use href="#t" class="t" x="296.1" y="863.6"/>
<use href="#t" class="t" x="329.1" y="881.4"/>
<use href="#t" class="t" x="336.9" y="878.7"/>
<use href="#t" class="t" x="443.2" y="935.3"/>
<use href="#t" class="t" x="457" y="933.2"/>
<use href="#t" class="t" x="462.8" y="946.6"/>
<use href="#t" class="t" x="464.6" y="954.7"/>
<use href="#t" class="t" x="472.3" y="956.5"/>
<use href="#t" class="t" x="497.6" y="954.5"/>
<use href="#t" class="t" x="500.7" y="970.5"/>
<use href="#t" class="t" x="513.9" y="972"/>
<use href="#t" class="t" x="521.1" y="972"/>
<use href="#t" class="t" x="513.1" y="962.3"/>
<use href="#t" class="t" x="521.1" y="984.7"/>
<use href="#t" class="t" x="530.5" y="978.4"/>
<use href="#t" class="t" x="578.8" y="1019"/>
<use href="#t" class="t" x="635.7" y="1028.9"/>
<use href="#d" class="d" x="103" y="771"/>
<use href="#d" class="d" x="112" y="775"/>
<use href="#d" class="d" x="120" y="778"/>
<use href="#d" class="d" x="127" y="786"/>
<use href="#d" class="d" x="133" y="795"/>
<use href="#d" class="d" x="118" y="790"/>
<use href="#d" class="d" x="97.1" y="764.4"/>
<use href="#d" class="d" x="107.1" y="765.3"/>
<use href="#d" class="d" x="116.1" y="767.1"/>
<use href="#d" class="d" x="123.3" y="769.8"/>
<use href="#d" class="d" x="149.1" y="760.8"/>
<use href="#d" class="d" x="99.9" y="776.1"/>
<use href="#d" class="d" x="137.8" y="779.7"/>
<use href="#d" class="d" x="144.1" y="775.2"/>
<use href="#d" class="d" x="115.2" y="781.5"/>
<use href="#d" class="d" x="130.5" y="783.3"/>
<use href="#d" class="d" x="109.8" y="789.6"/>
<use href="#d" class="d" x="125.1" y="792.3"/>
<use href="#d" class="d" x="136" y="791.4"/>
<use href="#d" class="d" x="153.1" y="790.5"/>
<use href="#d" class="d" x="142.3" y="800.5"/>
</g>
<g id="p6">
<rect class="fr" x="771" y="749.2" width="546.1" height="288.6"/>
<path class="fr" d="M771,1037.8 v6.2 M825.6,1037.8 v4 M880.2,1037.8 v6.2 M934.8,1037.8 v4 M989.4,1037.8 v6.2 M1044,1037.8 v4 M1098.7,1037.8 v6.2 M1153.3,1037.8 v4 M1207.9,1037.8 v6.2 M1262.5,1037.8 v4 M1317.1,1037.8 v6.2 M771,1037.8 h-6.2 M771,1013.8 h-4 M771,989.7 h-6.2 M771,965.6 h-4 M771,941.6 h-6.2 M771,917.5 h-4 M771,893.5 h-6.2 M771,869.5 h-4 M771,845.4 h-6.2 M771,821.4 h-4 M771,797.3 h-6.2 M771,773.2 h-4 M771,749.2 h-6.2"/>
<text class="tk" text-anchor="middle" x="771" y="1072.8">0.0</text>
<text class="tk" text-anchor="middle" x="880.2" y="1072.8">0.2</text>
<text class="tk" text-anchor="middle" x="989.4" y="1072.8">0.4</text>
<text class="tk" text-anchor="middle" x="1098.7" y="1072.8">0.6</text>
<text class="tk" text-anchor="middle" x="1207.9" y="1072.8">0.8</text>
<text class="tk" text-anchor="middle" x="1317.1" y="1072.8">1.0</text>
<text class="tk" text-anchor="end" x="751.5" y="1044.2">0.00</text>
<text class="tk" text-anchor="end" x="751.5" y="996.1">0.05</text>
<text class="tk" text-anchor="end" x="751.5" y="948">0.10</text>
<text class="tk" text-anchor="end" x="751.5" y="899.9">0.15</text>
<text class="tk" text-anchor="end" x="751.5" y="851.8">0.20</text>
<text class="tk" text-anchor="end" x="751.5" y="803.7">0.25</text>
<text class="tk" text-anchor="end" x="751.5" y="755.6">0.30</text>
<text class="ax" text-anchor="middle" x="1044.6" y="1101.9">Mg apfu</text>
<text class="ax" text-anchor="middle" transform="translate(694.9,865) rotate(-90)">Al apfu</text>
<use href="#s" class="s" x="891.4" y="838.4"/>
<use href="#s" class="s" x="895.1" y="840.2"/>
<use href="#s" class="s" x="846.3" y="935.5"/>
<use href="#s" class="s" x="873.7" y="914.2"/>
<use href="#s" class="s" x="904.4" y="914.2"/>
<use href="#s" class="s" x="877.3" y="985.5"/>
<use href="#s" class="s" x="913.4" y="943.9"/>
<use href="#s" class="s" x="914.3" y="961.1"/>
<use href="#s" class="s" x="915.2" y="975.5"/>
<use href="#s" class="s" x="927.9" y="919.6"/>
<use href="#s" class="s" x="933.3" y="941.2"/>
<use href="#s" class="s" x="940.5" y="962"/>
<use href="#s" class="s" x="956.8" y="902.4"/>
<use href="#s" class="s" x="954.9" y="933.1"/>
<use href="#s" class="s" x="958.6" y="919.6"/>
<use href="#s" class="s" x="981.1" y="925"/>
<use href="#s" class="s" x="969.4" y="946.6"/>
<use href="#s" class="s" x="969.4" y="962.9"/>
<use href="#s" class="s" x="982" y="977.3"/>
<use href="#s" class="s" x="951.3" y="961.1"/>
<use href="#s" class="s" x="965.8" y="971.9"/>
<use href="#s" class="s" x="1082.7" y="871.9"/>
<use href="#s" class="s" x="963.6" y="902.6"/>
<use href="#s" class="s" x="1113.4" y="899"/>
<use href="#s" class="s" x="1080.9" y="906.2"/>
<use href="#s" class="s" x="1086.4" y="904.4"/>
<use href="#s" class="s" x="1082.7" y="921.5"/>
<use href="#s" class="s" x="1111.6" y="923"/>
<use href="#s" class="s" x="1117" y="926.6"/>
<use href="#s" class="s" x="981.7" y="926.6"/>
<use href="#s" class="s" x="963.6" y="931"/>
<use href="#s" class="s" x="1071" y="946"/>
<use href="#s" class="s" x="1113.4" y="952.5"/>
<use href="#s" class="s" x="1110.7" y="961.4"/>
<use href="#s" class="s" x="1014.2" y="941"/>
<use href="#s" class="s" x="1032.2" y="941"/>
<use href="#s" class="s" x="970.8" y="948"/>
<use href="#s" class="s" x="1055.7" y="933.3"/>
<use href="#s" class="s" x="967.2" y="965"/>
<use href="#s" class="s" x="981.7" y="977.6"/>
<use href="#s" class="s" x="1019.6" y="972.2"/>
<use href="#s" class="s" x="1005.1" y="954.2"/>
<use href="#s" class="s" x="1111.7" y="922.3"/>
<use href="#t" class="t" x="797.9" y="970.1"/>
<use href="#t" class="t" x="799.7" y="984.5"/>
<use href="#t" class="t" x="813.2" y="993.6"/>
<use href="#t" class="t" x="800.6" y="999"/>
<use href="#t" class="t" x="807.8" y="1002.6"/>
<use href="#t" class="t" x="774.4" y="999"/>
<use href="#t" class="t" x="782.2" y="1001.7"/>
<use href="#t" class="t" x="815.1" y="1006.2"/>
<use href="#t" class="t" x="792.5" y="1011.6"/>
<use href="#t" class="t" x="832.7" y="1005.3"/>
<use href="#t" class="t" x="843" y="1009.8"/>
<use href="#t" class="t" x="832.7" y="1013.4"/>
<use href="#t" class="t" x="860.2" y="1011.6"/>
<use href="#t" class="t" x="852.1" y="1005.3"/>
<use href="#t" class="t" x="879.1" y="1002.6"/>
<use href="#t" class="t" x="883.6" y="1023.4"/>
<use href="#t" class="t" x="882.7" y="1018.8"/>
<use href="#t" class="t" x="881.8" y="1016.1"/>
<use href="#t" class="t" x="899.9" y="1008.9"/>
<use href="#t" class="t" x="912.2" y="1013.4"/>
<use href="#t" class="t" x="908.4" y="985.5"/>
<use href="#t" class="t" x="929.7" y="999"/>
<use href="#t" class="t" x="921.9" y="994.5"/>
<use href="#t" class="t" x="950.4" y="972.8"/>
<use href="#t" class="t" x="933.3" y="977.3"/>
<use href="#t" class="t" x="946.8" y="977.3"/>
<use href="#t" class="t" x="996.5" y="916"/>
<use href="#t" class="t" x="998.3" y="935.8"/>
<use href="#t" class="t" x="992.9" y="950.3"/>
<use href="#t" class="t" x="983.8" y="961.1"/>
<use href="#t" class="t" x="998.3" y="961.1"/>
<use href="#t" class="t" x="985.6" y="975.5"/>
<use href="#t" class="t" x="998.3" y="982.7"/>
<use href="#t" class="t" x="996.1" y="915.7"/>
<use href="#t" class="t" x="1005.1" y="908.5"/>
<use href="#t" class="t" x="1022.3" y="928.4"/>
<use href="#t" class="t" x="998.8" y="936.5"/>
<use href="#t" class="t" x="1055.7" y="909.4"/>
<use href="#t" class="t" x="1044.8" y="909.8"/>
<use href="#t" class="t" x="1058.4" y="919.4"/>
<use href="#t" class="t" x="1043" y="932"/>
<use href="#t" class="t" x="1048.4" y="941"/>
<use href="#t" class="t" x="1067.4" y="940.1"/>
<use href="#t" class="t" x="1082.7" y="934.7"/>
<use href="#t" class="t" x="1098.1" y="944.2"/>
<use href="#t" class="t" x="988.9" y="948.7"/>
<use href="#t" class="t" x="1019.6" y="950.8"/>
<use href="#t" class="t" x="1008.7" y="950"/>
<use href="#t" class="t" x="998.8" y="961.4"/>
<use href="#t" class="t" x="985.3" y="976.7"/>
<use href="#t" class="t" x="1001.5" y="981.2"/>
<use href="#t" class="t" x="1039.4" y="958"/>
<use href="#t" class="t" x="1071" y="966.8"/>
<use href="#t" class="t" x="1047.6" y="943.4"/>
<use href="#t" class="t" x="1038.6" y="960.6"/>
<use href="#t" class="t" x="1066.5" y="942.5"/>
<use href="#u" class="u" x="1137.3" y="764"/>
<use href="#u" class="u" x="1125.5" y="788.8"/>
<use href="#u" class="u" x="1139.1" y="819.5"/>
<use href="#u" class="u" x="1170" y="814.6"/>
<use href="#u" class="u" x="1175.2" y="835.8"/>
<use href="#u" class="u" x="1179.4" y="845.6"/>
<use href="#u" class="u" x="1177.8" y="854.7"/>
<use href="#u" class="u" x="1176.6" y="864.5"/>
<use href="#u" class="u" x="1183.9" y="880.8"/>
<use href="#u" class="u" x="1195.4" y="879.5"/>
<use href="#u" class="u" x="1201.4" y="885.8"/>
<use href="#u" class="u" x="1184" y="883.2"/>
<use href="#u" class="u" x="1187.9" y="919.5"/>
<use href="#u" class="u" x="1180" y="919.3"/>
<use href="#u" class="u" x="1197" y="929.9"/>
<use href="#u" class="u" x="1181.8" y="941.4"/>
<use href="#v" class="v" x="1201.4" y="769.8"/>
<use href="#v" class="v" x="1187.6" y="793"/>
<use href="#v" class="v" x="1188" y="892.3"/>
<use href="#d" class="d" x="933.5" y="840.2"/>
<use href="#d" class="d" x="960.9" y="850.1"/>
<use href="#d" class="d" x="916.1" y="865.4"/>
<use href="#d" class="d" x="949.5" y="878"/>
<use href="#d" class="d" x="912.5" y="890.7"/>
<use href="#d" class="d" x="917.9" y="889.8"/>
<use href="#d" class="d" x="936" y="887.1"/>
<use href="#d" class="d" x="947.7" y="888.9"/>
<use href="#d" class="d" x="936.9" y="903.3"/>
<use href="#d" class="d" x="925.2" y="922.3"/>
<use href="#d" class="d" x="937.8" y="923.2"/>
<use href="#d" class="d" x="927.9" y="934.9"/>
<use href="#d" class="d" x="1102.5" y="808.8"/>
<use href="#d" class="d" x="1118" y="821.3"/>
<use href="#d" class="d" x="1067.4" y="863.8"/>
<use href="#d" class="d" x="1093.2" y="866.5"/>
<use href="#d" class="d" x="1021.4" y="904.4"/>
<use href="#d" class="d" x="1043.9" y="917"/>
<use href="#d" class="d" x="1108" y="902.6"/>
<use href="#d" class="d" x="1120.6" y="904.4"/>
<use href="#d" class="d" x="1189.3" y="813.1"/>
<use href="#d" class="d" x="1176.6" y="822.6"/>
<use href="#d" class="d" x="1171" y="824.9"/>
<use href="#d" class="d" x="1162.2" y="832.6"/>
<use href="#d" class="d" x="1201" y="841.1"/>
<use href="#d" class="d" x="1202.8" y="850.2"/>
<use href="#d" class="d" x="1095.4" y="867.3"/>
<use href="#d" class="d" x="1133.3" y="866.4"/>
<use href="#d" class="d" x="1154.5" y="863.2"/>
<use href="#d" class="d" x="1126.1" y="879"/>
<use href="#d" class="d" x="1144.2" y="874.5"/>
<use href="#d" class="d" x="1172.5" y="871"/>
<use href="#d" class="d" x="1159.5" y="880"/>
<use href="#d" class="d" x="1171.6" y="888.5"/>
<use href="#d" class="d" x="1151.4" y="889"/>
<use href="#d" class="d" x="1135.1" y="898.9"/>
<use href="#d" class="d" x="1164" y="897.2"/>
<use href="#d" class="d" x="1176.6" y="900.8"/>
<use href="#d" class="d" x="1150.9" y="906.6"/>
<use href="#d" class="d" x="1169.4" y="899.7"/>
<use href="#d" class="d" x="1172.1" y="900.5"/>
<use href="#d" class="d" x="1169.4" y="915.5"/>
<use href="#d" class="d" x="1156.4" y="919.2"/>
<use href="#d" class="d" x="1146" y="922.4"/>
<use href="#d" class="d" x="1165.4" y="927"/>
<use href="#d" class="d" x="1166.7" y="938.9"/>
<use href="#d" class="d" x="1152.3" y="944.9"/>
<use href="#d" class="d" x="1146.8" y="959.3"/>
<use href="#d" class="d" x="1216.5" y="921.5"/>
<use href="#d" class="d" x="1255.3" y="952.6"/>
</g>
<text class="an" x="257.5" y="55">Punta Marmolite</text>
<text class="an" x="121.3" y="158">Cuma</text>
<text class="an" x="539" y="198.5">Nisida</text>
<text class="an" x="299" y="260">Accademia</text>
<text class="an" x="426.5" y="293.3">Procida</text>
<text class="an" x="329" y="467">Nisida</text>
<text class="an" x="495.4" y="466">Procida</text>
<path class="ar" d="M334.7,67.2 L315.1,93.7"/>
<path class="ah" d="M308,103.3 L311.3,88.4 L321.3,95.7 Z"/>
<path class="ar" d="M142.8,136.3 L129.6,114.9"/>
<path class="ah" d="M123.3,104.7 L135.9,113.4 L125.4,119.9 Z"/>
<path class="ar" d="M565.3,208.4 L540.8,225.8"/>
<path class="ah" d="M531,232.8 L538.8,219.6 L546,229.7 Z"/>
<path class="ar" d="M391,240.5 L427.9,223.8"/>
<path class="ah" d="M438.8,218.8 L428.6,230.2 L423.5,218.9 Z"/>
<path class="ar" d="M505.7,285.2 L514.7,267.9"/>
<path class="ah" d="M520.2,257.2 L519.3,272.5 L508.3,266.8 Z"/>
</svg></body></html>
